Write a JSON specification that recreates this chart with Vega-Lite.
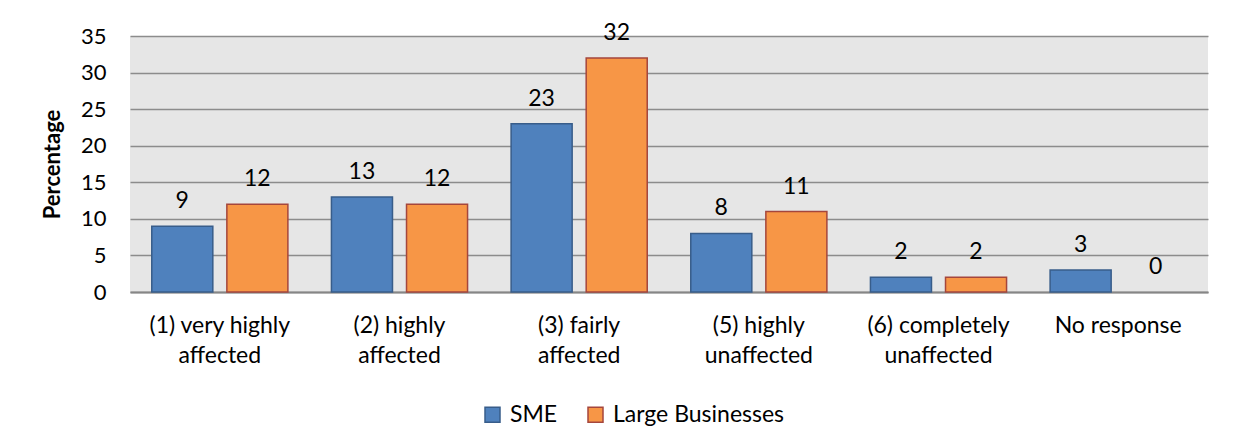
{
  "$schema": "https://vega.github.io/schema/vega-lite/v6.json",
  "autosize": {"type": "none"},
  "width": 1078,
  "height": 256,
  "padding": {"left": 130, "top": 36, "right": 25, "bottom": 155},
  "background": "#ffffff",
  "config": {
    "view": {"fill": "#e6e6e6", "stroke": null},
    "font": "Lato",
    "axis": {"labelFont": "Lato", "titleFont": "Lato", "labelColor": "#000000", "titleColor": "#000000"}
  },
  "data": {
    "values": [
      {"category": "(1) very highly affected", "group": "SME", "value": 9},
      {"category": "(1) very highly affected", "group": "Large Businesses", "value": 12},
      {"category": "(2) highly affected", "group": "SME", "value": 13},
      {"category": "(2) highly affected", "group": "Large Businesses", "value": 12},
      {"category": "(3) fairly affected", "group": "SME", "value": 23},
      {"category": "(3) fairly affected", "group": "Large Businesses", "value": 32},
      {"category": "(5) highly unaffected", "group": "SME", "value": 8},
      {"category": "(5) highly unaffected", "group": "Large Businesses", "value": 11},
      {"category": "(6) completely unaffected", "group": "SME", "value": 2},
      {"category": "(6) completely unaffected", "group": "Large Businesses", "value": 2},
      {"category": "No response", "group": "SME", "value": 3},
      {"category": "No response", "group": "Large Businesses", "value": 0}
    ]
  },
  "encoding": {
    "x": {
      "field": "category",
      "type": "nominal",
      "sort": null,
      "scale": {"paddingInner": 0, "paddingOuter": 0},
      "axis": {
        "title": null,
        "labelAngle": 0,
        "labelFontSize": 23,
        "labelPadding": 22,
        "labelLineHeight": 30,
        "labelBaseline": "top",
        "labelLimit": 300,
        "ticks": false,
        "tickSize": 0,
        "domainColor": "#868686",
        "domainWidth": 2,
        "labelExpr": "{'(1) very highly affected': ['(1) very highly', 'affected'], '(2) highly affected': ['(2) highly', 'affected'], '(3) fairly affected': ['(3) fairly', 'affected'], '(5) highly unaffected': ['(5) highly', 'unaffected'], '(6) completely unaffected': ['(6) completely', 'unaffected'], 'No response': 'No response'}[datum.label]"
      }
    },
    "xOffset": {
      "field": "group",
      "type": "nominal",
      "sort": ["SME", "Large Businesses"],
      "scale": {"paddingInner": 0.187, "paddingOuter": 0.29}
    },
    "y": {
      "field": "value",
      "type": "quantitative",
      "scale": {"domain": [0, 35], "nice": false},
      "axis": {
        "title": "Percentage",
        "titleFontSize": 22,
        "titleFontWeight": "bold",
        "titlePadding": 16,
        "values": [0, 5, 10, 15, 20, 25, 30, 35],
        "labelFontSize": 22,
        "labelPadding": 24,
        "ticks": false,
        "tickSize": 0,
        "domain": false,
        "grid": true,
        "gridColor": "#8c8c8c",
        "gridWidth": 1.5
      }
    }
  },
  "layer": [
    {
      "mark": {"type": "bar", "strokeWidth": 1.5},
      "encoding": {
        "color": {
          "field": "group",
          "type": "nominal",
          "sort": ["SME", "Large Businesses"],
          "scale": {"domain": ["SME", "Large Businesses"], "range": ["#4f81bd", "#f79646"]},
          "legend": {
            "title": null,
            "orient": "none",
            "legendX": 351,
            "legendY": 367,
            "direction": "horizontal",
            "symbolType": "square",
            "symbolSize": 225,
            "symbolStrokeWidth": 1.5,
            "labelFontSize": 23,
            "labelFont": "Lato",
            "labelColor": "#000000",
            "labelOffset": 6,
            "labelLimit": 400,
            "columnPadding": 26
          }
        },
        "stroke": {
          "field": "group",
          "type": "nominal",
          "sort": ["SME", "Large Businesses"],
          "scale": {"domain": ["SME", "Large Businesses"], "range": ["#385d8a", "#a5463c"]},
          "legend": null
        },
        "strokeOpacity": {"condition": {"test": "datum.value == 0", "value": 0}, "value": 1}
      }
    },
    {
      "mark": {"type": "text", "baseline": "alphabetic", "dy": -18, "fontSize": 23, "font": "Lato", "color": "#000000"},
      "encoding": {
        "text": {"field": "value", "type": "quantitative"}
      }
    }
  ]
}
